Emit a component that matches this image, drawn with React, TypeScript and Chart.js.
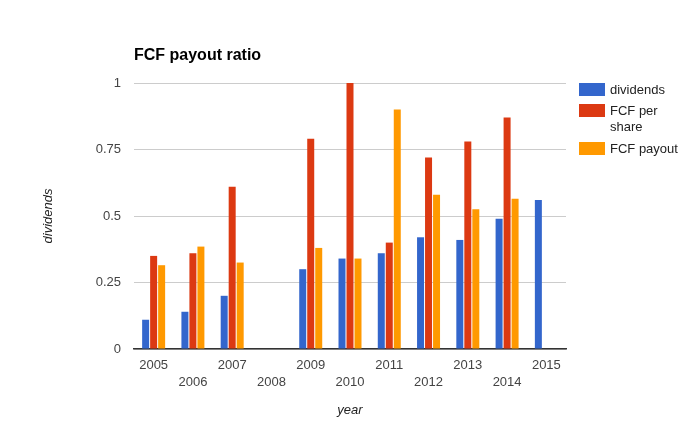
import React, { useEffect, useRef } from "react";
import { Chart, registerables } from "chart.js";

Chart.register(...registerables);

const years = ["2005", "2006", "2007", "2008", "2009", "2010", "2011", "2012", "2013", "2014", "2015"];
const dividends = [0.11, 0.14, 0.2, null, 0.3, 0.34, 0.36, 0.42, 0.41, 0.49, 0.56];
const fcfPerShare = [0.35, 0.36, 0.61, null, 0.79, 1.0, 0.4, 0.72, 0.78, 0.87, null];
const fcfPayout = [0.315, 0.385, 0.325, null, 0.38, 0.34, 0.9, 0.58, 0.525, 0.565, null];
const yTicks = [0, 0.25, 0.5, 0.75, 1];
const seriesNames = ["dividends", "FCF per share", "FCF payout"];
const legendLines = [["dividends"], ["FCF per", "share"], ["FCF payout"]];
const colors = ["#3366cc", "#dc3912", "#ff9900"];
const titleText = "FCF payout ratio";
const xTitle = "year";
const yTitle = "dividends";

const FONT = "'Liberation Sans', Arial, sans-serif";

const decorPlugin = {
  id: "decor",
  afterDraw(chart: any) {
    const ctx = chart.ctx;
    const area = chart.chartArea;
    ctx.save();
    // title
    ctx.fillStyle = "#000";
    ctx.font = `bold 16px ${FONT}`;
    ctx.textAlign = "left";
    ctx.textBaseline = "alphabetic";
    ctx.fillText(titleText, area.left, 60);
    // x title
    ctx.font = `italic 13px ${FONT}`;
    ctx.fillStyle = "#222";
    ctx.textAlign = "center";
    ctx.textBaseline = "middle";
    ctx.fillText(xTitle, (area.left + area.right) / 2, 410);
    // y title
    ctx.save();
    ctx.translate(48, (area.top + area.bottom) / 2);
    ctx.rotate(-Math.PI / 2);
    ctx.fillText(yTitle, 0, 0);
    ctx.restore();
    // legend
    let y = 82.7;
    ctx.textAlign = "left";
    ctx.font = `13px ${FONT}`;
    chart.data.datasets.forEach((ds: any, i: number) => {
      ctx.fillStyle = ds.backgroundColor;
      ctx.fillRect(579, Math.round(y), 26, 13);
      ctx.fillStyle = "#222";
      const lines = legendLines[i];
      lines.forEach((ln: string, j: number) => {
        ctx.fillText(ln, 610, Math.round(y) + 7 + j * 16);
      });
      y += 21.6 + (lines.length - 1) * 16;
    });
    ctx.restore();
  },
};

export default function App() {
  const ref = useRef<HTMLCanvasElement>(null);
  useEffect(() => {
    document.body.style.margin = "0";
    const canvas = ref.current!;
    const data = [dividends, fcfPerShare, fcfPayout];
    const chart = new Chart(canvas, {
      type: "bar",
      data: {
        labels: years,
        datasets: seriesNames.map((name, i) => ({
          label: name,
          data: data[i] as any,
          backgroundColor: colors[i],
          borderWidth: 0,
          categoryPercentage: 0.611,
          barPercentage: 0.875,
        })),
      },
      options: {
        responsive: false,
        animation: false,
        devicePixelRatio: 1,
        layout: { padding: { left: 0, top: 83, right: 133, bottom: 0 } },
        plugins: {
          legend: { display: false },
          title: { display: false },
          tooltip: { enabled: false },
        },
        scales: {
          x: {
            grid: { display: false, drawTicks: false },
            border: { display: true, color: "#333", width: 1.5 },
            ticks: {
              autoSkip: false,
              maxRotation: 0,
              minRotation: 0,
              padding: 8,
              color: "#444",
              font: { family: FONT, size: 13, lineHeight: 1.3 },
              callback: (_v: any, i: number) => (i % 2 === 0 ? years[i] : ["", years[i]]),
            },
            afterFit: (s: any) => {
              s.height = 83;
            },
          },
          y: {
            min: 0,
            max: 1,
            grid: { color: "#cccccc", drawTicks: false, lineWidth: 1 },
            border: { display: false },
            afterBuildTicks: (s: any) => {
              s.ticks = yTicks.map((v) => ({ value: v }));
            },
            ticks: {
              padding: 13,
              color: "#444",
              font: { family: FONT, size: 13 },
              callback: (v: any) => String(v),
            },
            afterFit: (s: any) => {
              s.width = 134;
            },
          },
        },
      },
      plugins: [decorPlugin],
    });
    return () => chart.destroy();
  }, []);
  return (
    <div style={{ width: 699, height: 432 }}>
      <canvas ref={ref} width={699} height={432} style={{ display: "block" }} />
    </div>
  );
}
